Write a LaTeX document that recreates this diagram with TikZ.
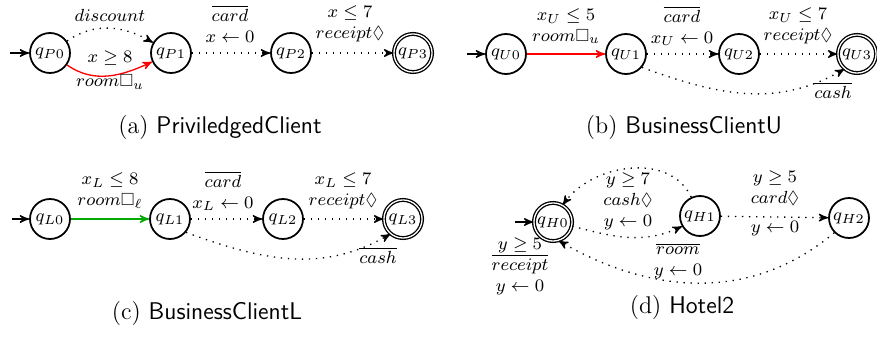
\documentclass[tikz,border=0pt]{standalone}
\usepackage{amsmath}
\usepackage{amssymb}
\usepackage{tikz}
\usetikzlibrary{shapes,arrows}
\tikzstyle{state} = [circle, draw, thick, inner sep=0pt, minimum size=0.64cm, font=\fontsize{8.5}{10}\selectfont]
\tikzstyle{final} = [state, semithick, double, double distance=0.6pt, minimum size=0.61cm]
\tikzstyle{arrow} = [draw, semithick, -stealth']
\tikzstyle{trans} = [arrow, dash pattern=on 0.6pt off 2.6pt]
\tikzstyle{guard} = [align=center, font=\footnotesize]
\tikzstyle{caption} = [font=\fontsize{11}{13.6}\selectfont]
\definecolor{ured}{HTML}{FF0000}
\definecolor{lgreen}{HTML}{00AA00}

\begin{document}
\begin{tikzpicture}
\useasboundingbox (0, 0) rectangle (14.032, -5.424);

%% privileged client
\node [state] at (0.8, -0.848) (P0) {$q_{P0}$};
\node [state] at (2.736, -0.848) (P1) {$q_{P1}$};
\node [state] at (4.656, -0.848) (P2) {$q_{P2}$};
\node [final] at (6.608, -0.848) (P3) {$q_{P3}$};
\coordinate (Pin) at (0.16, -0.848);
\path [arrow] (Pin) to (P0);

\path [trans, out=35, in=150] (P0) to (P1);
\node [guard] at (1.76, -0.24) (discount) {$discount$};

\path [arrow, draw=ured, out=-35, in=-155] (P0) to (P1);
\node [guard] at (1.76, -0.928) (guardP) {$x \geq 8$};
\node [guard] at (1.76, -1.312) (roomP) {$room\Box_u$};

\path [trans] (P1) to (P2);
\node [guard] at (3.68, -0.384) (cardP) {$\overline{card}$\\$x \leftarrow 0$};

\path [trans] (P2) to (P3);
\node [guard] at (5.6, -0.384) (receiptP) {$x \leq 7$\\$receipt\Diamond$};

\node [caption] at (3.52, -2.032) (capa) {(a) \textsf{PriviledgedClient}};

%% business client, upper
\begin{scope}[shift={(7.2, 0)}]
\node [state] at (0.896, -0.864) (U0) {$q_{U0}$};
\node [state] at (2.816, -0.864) (U1) {$q_{U1}$};
\node [state] at (4.624, -0.864) (U2) {$q_{U2}$};
\node [final] at (6.512, -0.864) (U3) {$q_{U3}$};
\coordinate (Uin) at (0.272, -0.864);
\path [arrow] (Uin) to (U0);

\path [arrow, draw=ured] (U0) to (U1);
\node [guard] at (1.856, -0.416) (roomU) {$x_U \leq 5$\\$room\Box_u$};

\path [trans] (U1) to (U2);
\node [guard] at (3.712, -0.416) (cardU) {$\overline{card}$\\$x_U \leftarrow 0$};

\path [trans] (U2) to (U3);
\node [guard] at (5.568, -0.416) (receiptU) {$x_U \leq 7$\\$receipt\Diamond$};

\path [trans, out=-20, in=-150] (U1.-40) to (U3.-130);
\node [guard] at (6.128, -1.44) (cashU) {$\overline{cash}$};

\node [caption] at (3.744, -2.032) (capb) {(b) \textsf{BusinessClientU}};
\end{scope}

%% business client, lower
\node [state] at (0.8, -3.504) (L0) {$q_{L0}$};
\node [state] at (2.72, -3.504) (L1) {$q_{L1}$};
\node [state] at (4.528, -3.504) (L2) {$q_{L2}$};
\node [final] at (6.448, -3.504) (L3) {$q_{L3}$};
\coordinate (Lin) at (0.19, -3.504);
\path [arrow] (Lin) to (L0);

\path [arrow, draw=lgreen] (L0) to (L1);
\node [guard] at (1.76, -3.056) (roomL) {$x_L \leq 8$\\$room\Box_\ell$};

\path [trans] (L1) to (L2);
\node [guard] at (3.568, -3.056) (cardL) {$\overline{card}$\\$x_L \leftarrow 0$};

\path [trans] (L2) to (L3);
\node [guard] at (5.488, -3.056) (receiptL) {$x_L \leq 7$\\$receipt\Diamond$};

\path [trans, out=-20, in=-150] (L1.-40) to (L3.-130);
\node [guard] at (6.048, -4.08) (cashL) {$\overline{cash}$};

\node [caption] at (3.312, -5.008) (capc) {(c) \textsf{BusinessClientL}};

%% hotel
\begin{scope}[shift={(7.2, 0)}]
\node [final] at (1.648, -3.552) (H0) {$q_{H0}$};
\node [state] at (4.0, -3.456) (H1) {$q_{H1}$};
\node [state] at (6.384, -3.488) (H2) {$q_{H2}$};
\coordinate (Hin) at (1.04, -3.552);
\path [arrow] (Hin) to (H0);

\path [trans, out=115, in=55] (H1.115) to (H0.60);
\node [guard] at (2.848, -3.216) (cashH) {$y \geq 7$\\$cash\Diamond$\\$y \leftarrow 0$};

\path [trans, out=-15, in=-155] (H0.-12) to (H1.-150);
\node [guard] at (3.648, -4.176) (roomH) {$\overline{room}$\\$y \leftarrow 0$};

\path [trans] (H1) to (H2);
\node [guard] at (5.2, -3.008) (cardH) {$y \geq 5$\\$card\Diamond$};
\node [guard] at (5.2, -3.664) (resetH) {$y \leftarrow 0$};

\path [trans, out=-140, in=-30] (H2.-135) to (H0.-73);
\node [guard] at (1.12, -4.256) (receiptH) {$y \geq 5$\\$\overline{receipt}$\\$y \leftarrow 0$};

\node [caption] at (3.712, -4.912) (capd) {(d) \textsf{Hotel2}};
\end{scope}
\end{tikzpicture}
\end{document}
